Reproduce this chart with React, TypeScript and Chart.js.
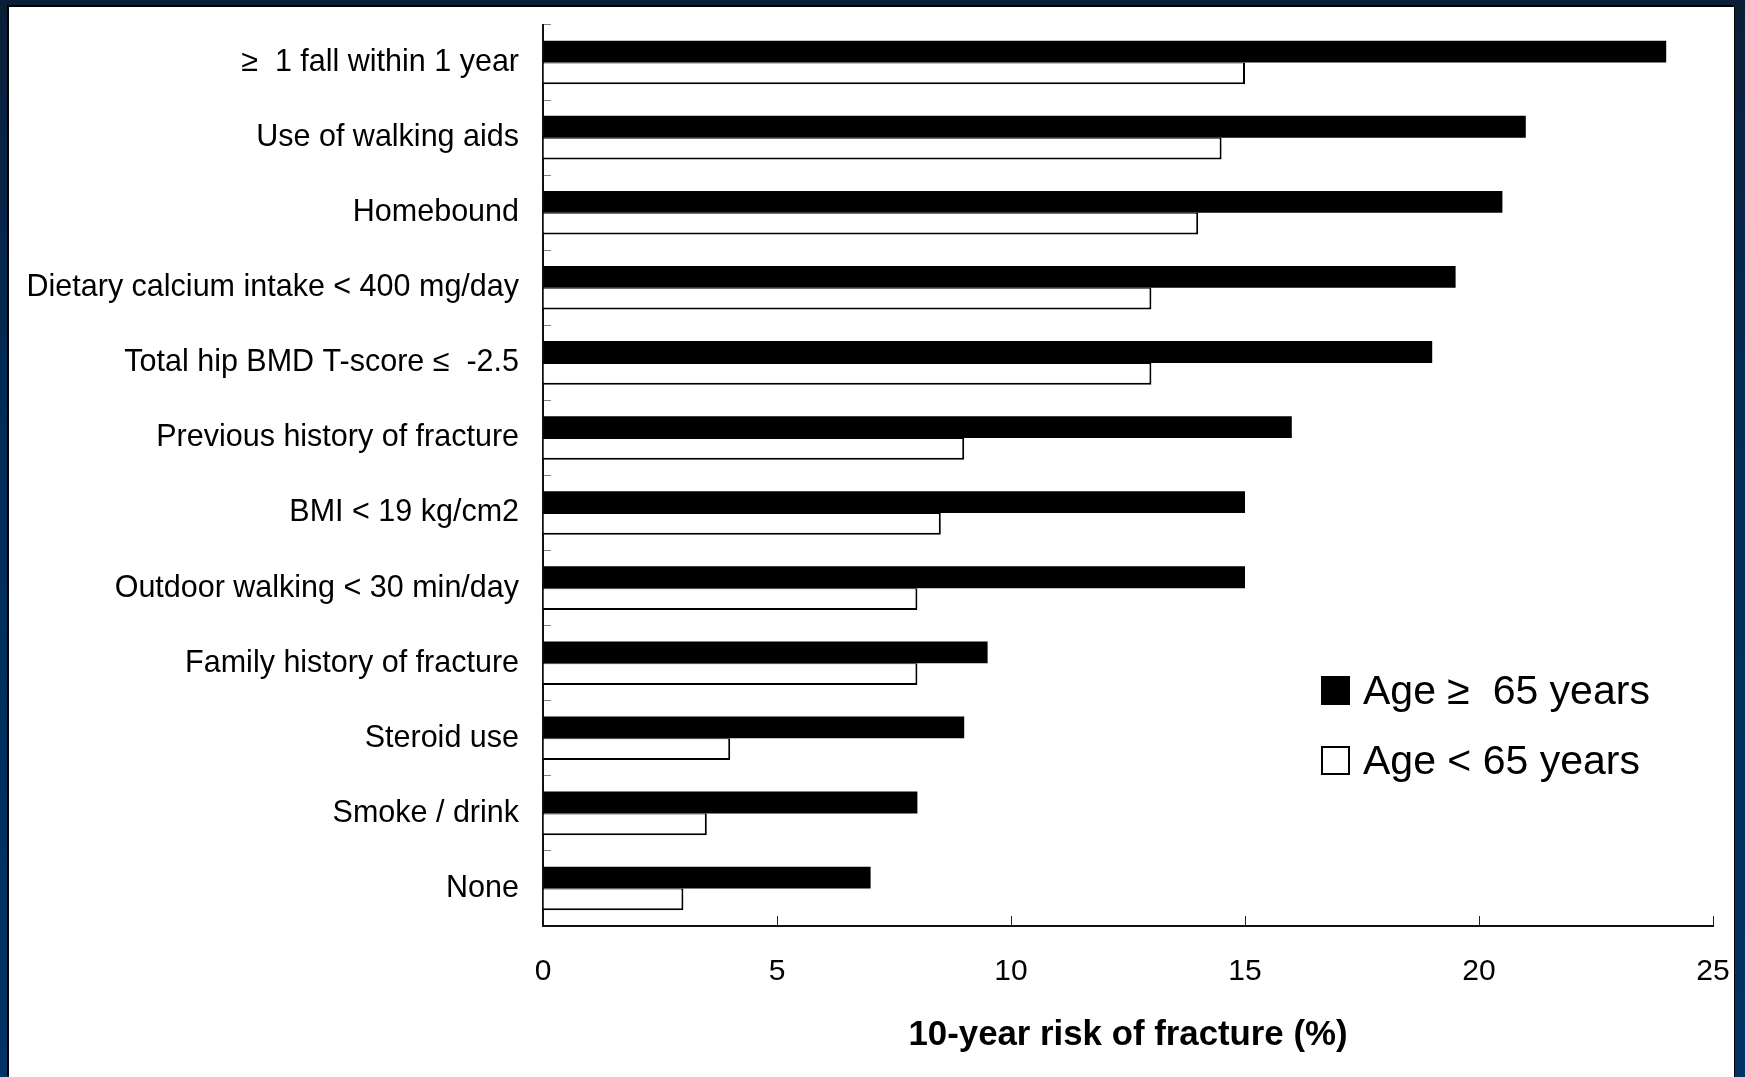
import React, { useEffect, useRef } from "react";
import { Chart, registerables } from "chart.js";

Chart.register(...registerables);

// Risk factors, top to bottom
const riskFactors = [
  "≥  1 fall within 1 year",
  "Use of walking aids",
  "Homebound",
  "Dietary calcium intake < 400 mg/day",
  "Total hip BMD T-score ≤  -2.5",
  "Previous history of fracture",
  "BMI < 19 kg/cm2",
  "Outdoor walking < 30 min/day",
  "Family history of fracture",
  "Steroid use",
  "Smoke / drink",
  "None",
];

// 10-year fracture risk (%) per group
const age65Plus = [24, 21, 20.5, 19.5, 19, 16, 15, 15, 9.5, 9, 8, 7];
const ageUnder65 = [15, 14.5, 14, 13, 13, 9, 8.5, 8, 8, 4, 3.5, 3];

const seriesNames = ["Age ≥  65 years", "Age < 65 years"];
const seriesFills = ["#000000", "#ffffff"];

const xTickValues = [0, 5, 10, 15, 20, 25];
const xAxisTitle = "10-year risk of fracture (%)";

const FONT = "'Liberation Sans', Arial, Helvetica, sans-serif";

const PANEL_W = 1726;
const PANEL_H = 1071;

export default function App() {
  const canvasRef = useRef<HTMLCanvasElement | null>(null);

  useEffect(() => {
    if (!canvasRef.current) return;
    const chart = new Chart(canvasRef.current, {
      type: "bar",
      data: {
        labels: riskFactors,
        datasets: [
          {
            label: seriesNames[0],
            data: age65Plus,
            backgroundColor: seriesFills[0],
            borderWidth: 0,
            categoryPercentage: 0.58,
            barPercentage: 1,
          },
          {
            label: seriesNames[1],
            data: ageUnder65,
            backgroundColor: seriesFills[1],
            borderColor: "#000000",
            borderWidth: { top: 1, right: 2, bottom: 2, left: 0 },
            categoryPercentage: 0.58,
            barPercentage: 1,
          },
        ],
      },
      options: {
        indexAxis: "y",
        responsive: false,
        animation: false,
        devicePixelRatio: 1,
        layout: { padding: { top: 19, right: 21, left: 0, bottom: 0 } },
        plugins: {
          legend: { display: false },
          tooltip: { enabled: false },
        },
        scales: {
          x: {
            type: "linear",
            position: "bottom",
            min: 0,
            max: 25,
            afterBuildTicks: (scale: any) => {
              scale.ticks = xTickValues.map((v) => ({ value: v }));
            },
            afterFit: (scale: any) => {
              scale.height = 151;
              scale.paddingLeft = 0;
              scale.paddingRight = 0;
            },
            grid: {
              drawOnChartArea: false,
              drawTicks: true,
              tickLength: -10,
              color: "#222222",
              lineWidth: 1,
            },
            border: { display: true, color: "#111111", width: 2 },
            ticks: {
              padding: 38,
              color: "#000000",
              font: { family: FONT, size: 30 },
            },
            title: {
              display: true,
              text: xAxisTitle,
              color: "#000000",
              font: { family: FONT, size: 34.8, weight: "bold" },
              padding: { top: 0, bottom: 21 },
            },
          },
          y: {
            type: "category",
            position: "left",
            afterFit: (scale: any) => {
              scale.width = 535;
              scale.paddingTop = 0;
              scale.paddingBottom = 0;
            },
            grid: {
              drawOnChartArea: false,
              drawTicks: true,
              tickLength: -8,
              color: "#808080",
              lineWidth: 1,
              offset: true,
            },
            border: { display: true, color: "#111111", width: 2 },
            ticks: {
              padding: 32,
              color: "#000000",
              autoSkip: false,
              font: { family: FONT, size: 30.5 },
            },
          },
        },
      },
    } as any);
    return () => chart.destroy();
  }, []);

  const legendRow = (i: number, top: number) => (
    <div
      key={i}
      style={{
        position: "absolute",
        left: 1321,
        top,
        height: 40,
        display: "flex",
        alignItems: "center",
        whiteSpace: "pre",
      }}
    >
      <div
        style={{
          width: i === 0 ? 29 : 25,
          height: i === 0 ? 29 : 25,
          background: seriesFills[i],
          border: i === 0 ? "none" : "2px solid #000",
          marginRight: 13,
        }}
      />
      <span style={{ fontFamily: FONT, fontSize: 41, color: "#000", lineHeight: "40px" }}>
        {seriesNames[i]}
      </span>
    </div>
  );

  return (
    <div
      style={{
        position: "fixed",
        left: 0,
        top: 0,
        width: 1745,
        height: 1077,
        overflow: "hidden",
        background: "linear-gradient(180deg, #0b1e38 0%, #012c58 40%, #003366 100%)",
      }}
    >
      <div
        style={{
          position: "absolute",
          left: 8,
          top: 6,
          width: PANEL_W,
          height: PANEL_H,
          background: "#ffffff",
          boxShadow: "inset 1px 1px 0 #000, -1px -1px 0 #000, 1px 0 0 #000",
        }}
      >
        <canvas
          ref={canvasRef}
          width={PANEL_W}
          height={PANEL_H}
          style={{ width: PANEL_W, height: PANEL_H, display: "block" }}
        />
      </div>
      {legendRow(0, 670)}
      {legendRow(1, 740)}
    </div>
  );
}
